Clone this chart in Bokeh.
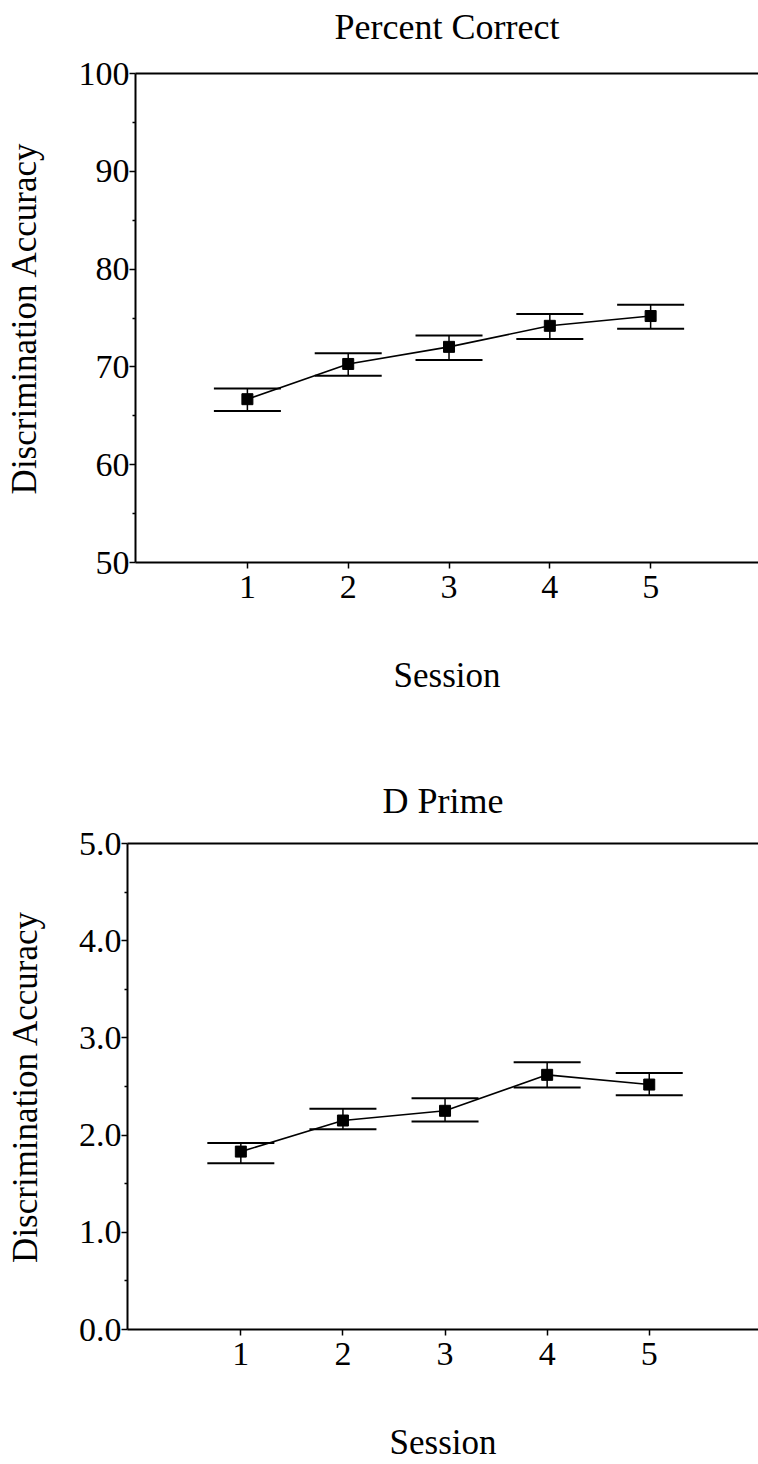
from bokeh.plotting import figure
from bokeh.layouts import column, row
from bokeh.models import (Range1d, FixedTicker, Whisker, TeeHead, ColumnDataSource,
                          LinearAxis, PrintfTickFormatter)
from bokeh.embed import file_html
from bokeh.resources import INLINE

sessions = [1, 2, 3, 4, 5]
session_ticks = [1, 2, 3, 4, 5]

pc_mean = [66.7, 70.3, 72.05, 74.2, 75.2]
pc_upper = [67.8, 71.4, 73.2, 75.4, 76.35]
pc_lower = [65.5, 69.1, 70.7, 72.85, 73.9]
pc_ticks = [50, 60, 70, 80, 90, 100]
pc_minor = [55, 65, 75, 85, 95]

dp_mean = [1.83, 2.15, 2.25, 2.62, 2.52]
dp_upper = [1.92, 2.27, 2.38, 2.75, 2.64]
dp_lower = [1.71, 2.06, 2.14, 2.49, 2.41]
dp_ticks = [0, 1, 2, 3, 4, 5]
dp_minor = [0.5, 1.5, 2.5, 3.5, 4.5]

FONT = "Liberation Serif"


def make_panel(title, mean, upper, lower, yr, ticks, minor, fmt,
               height, b_left, b_top, b_bottom, title_standoff,
               ylab_standoff, xlab_standoff):
    p = figure(width=758, height=height, output_backend="svg", toolbar_location=None,
               x_range=Range1d(-0.11, 6.07), y_range=Range1d(*yr),
               min_border_left=b_left, min_border_right=0,
               min_border_top=b_top, min_border_bottom=b_bottom,
               background_fill_color="white", border_fill_color="white")
    p.outline_line_color = None
    p.xgrid.visible = False
    p.ygrid.visible = False

    for ax in (p.xaxis[0], p.yaxis[0]):
        ax.axis_line_width = 2
        ax.axis_line_color = "black"
        ax.major_tick_line_width = 1.5
        ax.minor_tick_line_width = 1.5
        ax.major_tick_out = 6
        ax.major_tick_in = 0
        ax.minor_tick_out = 3
        ax.minor_tick_in = 0
        ax.major_label_text_font = FONT
        ax.major_label_text_font_size = "34px"
        ax.major_label_text_color = "black"
        ax.axis_label_text_font = FONT
        ax.axis_label_text_font_size = "35px"
        ax.axis_label_text_font_style = "normal"
        ax.axis_label_text_color = "black"

    p.xaxis.ticker = FixedTicker(ticks=session_ticks, minor_ticks=[])
    p.xaxis.axis_label = "Session"
    p.xaxis.major_label_standoff = 7
    p.xaxis.axis_label_standoff = xlab_standoff
    p.yaxis.ticker = FixedTicker(ticks=ticks, minor_ticks=minor)
    p.yaxis.formatter = PrintfTickFormatter(format=fmt)
    p.yaxis.major_label_standoff = 0
    p.yaxis.axis_label = "Discrimination Accuracy"
    p.yaxis.axis_label_standoff = ylab_standoff

    # top frame line, carrying the panel title as its label
    top = LinearAxis(ticker=FixedTicker(ticks=[]), axis_line_width=2,
                     axis_line_color="black", major_tick_line_color=None,
                     minor_tick_line_color=None, major_tick_out=0, major_tick_in=0,
                     major_label_standoff=0, major_label_text_font_size="0px",
                     axis_label=title, axis_label_standoff=title_standoff,
                     axis_label_text_font=FONT, axis_label_text_font_size="36px",
                     axis_label_text_font_style="normal", axis_label_text_color="black")
    p.add_layout(top, "above")

    src = ColumnDataSource(dict(x=sessions, y=mean, up=upper, lo=lower))
    p.add_layout(Whisker(base="x", upper="up", lower="lo", source=src,
                         line_color="black", line_width=1.5,
                         upper_head=TeeHead(size=67, line_width=2, line_color="black"),
                         lower_head=TeeHead(size=67, line_width=2, line_color="black")))
    p.line("x", "y", source=src, line_color="black", line_width=1.6)
    p.scatter("x", "y", source=src, marker="square", size=11,
              fill_color="black", line_color="black")
    return p


p1 = make_panel("Percent Correct", pc_mean, pc_upper, pc_lower, (50, 100),
                pc_ticks, pc_minor, "%d", height=740, b_left=135, b_top=73,
                b_bottom=178, title_standoff=27, ylab_standoff=32, xlab_standoff=55)
p2 = make_panel("D Prime", dp_mean, dp_upper, dp_lower, (0, 5),
                dp_ticks, dp_minor, "%.1f", height=724, b_left=127, b_top=103,
                b_bottom=132, title_standoff=23, ylab_standoff=31, xlab_standoff=55)

layout = column(row(p1), row(p2), spacing=0)
open("out.html", "w").write(file_html(layout, INLINE))
